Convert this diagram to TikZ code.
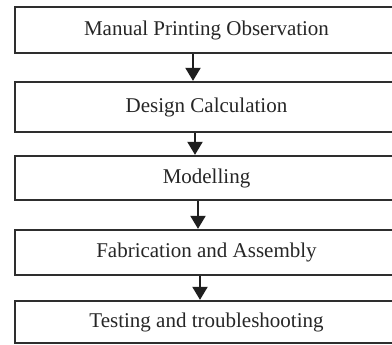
\documentclass[tikz,border=0pt]{standalone}
\usepackage{fontspec}
\setmainfont{Liberation Serif}
\usetikzlibrary{arrows.meta}
\begin{document}
\begin{tikzpicture}[x=1pt,y=-1pt,
  stagebox/.style={draw=black!82,line width=2.3pt,fill=white,
    minimum width=383pt,inner sep=0pt,
    font=\fontsize{21}{25}\selectfont,text=black!85},
  flow/.style={draw=black!88,line width=2pt,
    -{Triangle[width=15pt,length=13pt]}}]
  \useasboundingbox (0,0) rectangle (392,345);
  \clip (0,0) rectangle (392,345);
  \fill[white] (0,0) rectangle (392,345);

  \node[stagebox,minimum height=46pt] (s1) at (206.5,30) {Manual Printing Observation};
  \node[stagebox,minimum height=50pt] (s2) at (206.5,107) {Design Calculation};
  \node[stagebox,minimum height=44pt] (s3) at (206.5,178) {Modelling};
  \node[stagebox,minimum height=45pt] (s4) at (206.5,252.5) {Fabrication and Assembly};
  \node[stagebox,minimum height=42pt] (s5) at (206.5,322) {Testing and troubleshooting};

  \draw[flow] ([xshift=-13.5pt]s1.south) -- ([xshift=-13.5pt]s2.north);
  \draw[flow] ([xshift=-11.5pt]s2.south) -- ([xshift=-11.5pt]s3.north);
  \draw[flow] ([xshift=-8.5pt]s3.south) -- ([xshift=-8.5pt]s4.north);
  \draw[flow] ([xshift=-6.5pt]s4.south) -- ([xshift=-6.5pt]s5.north);
\end{tikzpicture}
\end{document}
